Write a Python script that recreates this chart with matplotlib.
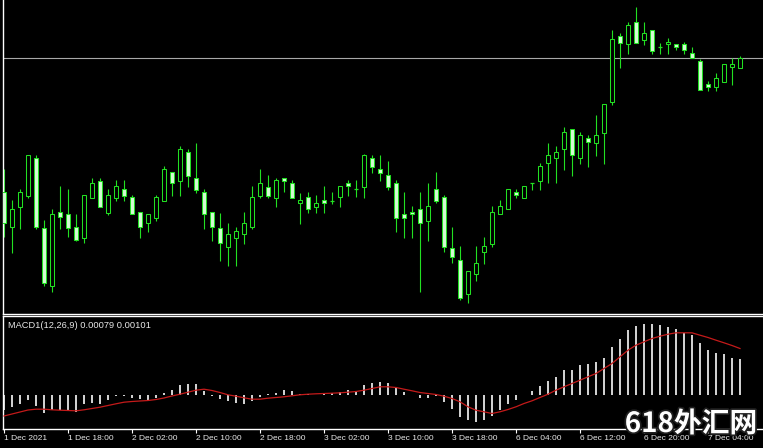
import matplotlib
matplotlib.use("Agg")
import matplotlib.pyplot as plt
from matplotlib.patches import Rectangle
import matplotlib.patheffects as pe

W, H, DPI = 763, 448, 100

# ---- price data (arbitrary price units) ----
opens = [122, 87.3, 107.3, 118.3, 155.7, 85.7, 28.3, 101.7, 99.7, 87.3,
         76.3, 116.3, 133.3, 101.3, 116.3, 124.7, 116.7, 101.7, 90.7, 96.3,
         113.3, 141.7, 133.3, 161.7, 135.7, 121.7, 101.7, 85.7, 67.3, 76.3,
         79.7, 87.3, 118.3, 127.3, 116.3, 135.7, 130.7, 110.7, 116.7, 107.3,
         114, 113.3, 116.7, 131.3, 124.7, 127.3, 155.7, 145, 139, 131.3,
         99.7, 102, 104.7, 93.3, 124.7, 116.7, 65.7, 54, 19.7, 39.7,
         62.3, 70, 99.7, 104.7, 122, 116.3, 131.3, 133.3, 150.7, 155.7,
         164.7, 184.7, 155.7, 176.3, 170.7, 181.3, 212.3, 278, 269.7, 291.7,
         274, 284, 267.3, 269.7, 269.7, 269.7, 260.7, 253, 230, 226.7,
         232.3, 246.7, 246.3]
highs = [145, 114, 125, 159, 159, 94, 105, 128.3, 125, 100,
         119, 135.7, 136.3, 125, 134, 134, 119, 101.7, 99.7, 119,
         148.3, 141.7, 168.3, 165, 171.3, 125, 101.7, 100.7, 90.7, 87.3,
         102.3, 128.3, 145, 139, 136.3, 135.7, 134, 121.3, 122.3, 119,
         128.3, 122.3, 128, 134, 134, 160, 159, 159, 153.3, 134,
         122.3, 108, 122.3, 131.3, 142.3, 119, 86.7, 68, 43, 68,
         77.3, 108, 114, 125, 125, 128, 131.3, 151.3, 170.7, 168,
         187.3, 184.7, 182.3, 179, 199, 209.7, 284, 280.7, 292.3, 306.7,
         292.3, 284, 270.7, 275.7, 269.7, 272.3, 267.3, 254.7, 233, 240.7,
         249.7, 255.7, 258]
lows = [77, 61.3, 85, 116.3, 85, 28.3, 22.3, 85, 76.7, 73,
        70.7, 116.3, 107.3, 99, 113.3, 113.3, 99.7, 76.3, 82.3, 93.3,
        113.3, 118.3, 118.3, 126.7, 120.7, 85, 73.3, 53, 48, 48,
        70, 85, 116.3, 116.3, 107.3, 121.7, 116.3, 90, 101.3, 101.3,
        101.3, 110, 107.3, 118.3, 117.3, 116.3, 140.7, 133, 124, 82.3,
        75.7, 75.7, 22.3, 73.3, 110.7, 62.3, 50.7, 14, 11.3, 33,
        50, 67.3, 99.7, 104.7, 116.3, 116.3, 124, 124, 130.7, 130.7,
        144, 138.5, 150, 147.3, 158, 150, 209, 245.7, 260, 271.3,
        269, 260, 260, 260, 264, 260, 255.7, 224, 223.3, 223.3,
        232.3, 229, 246.3]
closes = [91, 105, 122, 159, 87.3, 30.7, 100, 96.7, 85.7, 74,
          119, 130.7, 107.3, 118.7, 128, 118.3, 99.7, 87.3, 99.7, 116.7,
          144.7, 130.7, 165, 138.3, 124, 99.7, 87.3, 70.7, 79.7, 83,
          90.7, 116.7, 130.7, 118.3, 134, 133.3, 116.3, 114, 104.7, 110.7,
          110.7, 113.3, 128, 128, 124.7, 159, 147.3, 141.3, 127.3, 96.3,
          96.3, 99.7, 90.7, 108, 113.3, 67.3, 56.7, 16.3, 43, 50.7,
          68, 102, 108, 125, 118.7, 128, 131.3, 148, 159, 161.7,
          181.7, 159, 179, 172.3, 179, 209.7, 274.7, 271.3, 289, 271.3,
          281.3, 263, 267.3, 272.3, 266.7, 264, 255.7, 224, 226.7, 235.7,
          249.7, 250, 255.7]

# ---- MACD(12,26,9) data (same scale units, histogram = MACD main) ----
macd_main = [-15, -12.3, -9.7, -5, -11.7, -18.3, -15.7, -15.7, -15.7, -17.3,
             -9.7, -8.3, -9, -5, -1.7, -1, -3, -4, -5, -3,
             1.7, 4.3, 9.3, 10.3, 10.3, 3.7, -1.7, -4, -6.3, -8.3,
             -9.7, -6.3, -2.3, 1, 1.7, 4.3, 3.3, 1, 0.3, -0.7,
             0.3, 1.7, 2.7, 4.3, 3.7, 9.3, 11.7, 12.7, 11.7, 7,
             2.7, 0, -3, -3, -1.7, -7.3, -14, -22.3, -25.7, -27.3,
             -25.7, -21.7, -15, -9, -5, 0, 3.7, 8.3, 13.7, 17.7,
             24.3, 25, 29.3, 30.3, 32.7, 37, 47.7, 56, 64.3, 68.3,
             70.3, 70.3, 69.3, 67.7, 66, 61.7, 59.3, 51.7, 45, 41.7,
             40.3, 36.7, 35.3]
macd_signal = [-21.5, -19.5, -17.5, -15.5, -14.7, -14.7, -15.3, -15.7, -16, -16.3,
               -15.3, -14, -12.7, -11, -9.3, -7.7, -7, -6.5, -6, -5,
               -3.5, -1.5, 0.3, 2.3, 4.3, 5.3, 4, 2, -0.3, -1.7,
               -3.3, -4.7, -4.7, -3.7, -3, -2.3, -1.3, -0.3, 0.3, 0.7,
               1, 1.3, 1.7, 2.3, 3, 4.3, 6,
               7.7, 7.7, 7, 5.3, 3.7, 2, 1, 0, -1.7, -4,
               -7.3, -12.3, -15.7, -17.3, -19, -17.3, -15, -12.3, -9, -6.3,
               -3, 0.3, 4.3, 7.7, 11, 14.3, 17.7, 21, 26, 31,
               37.7, 44.3, 49.3, 52.7, 56, 58.3, 60.3, 61.7, 61.7, 61.7,
               59.3, 57, 54.3, 51.7, 49, 46]
macd_label = "MACD1(12,26,9) 0.00079 0.00101"

tick_bars = [0, 8, 16, 24, 32, 40, 48, 56, 64, 72, 80, 88]
tick_labels = ["1 Dec 2021", "1 Dec 18:00", "2 Dec 02:00", "2 Dec 10:00",
               "2 Dec 18:00", "3 Dec 02:00", "3 Dec 10:00", "3 Dec 18:00",
               "6 Dec 04:00", "6 Dec 12:00", "6 Dec 20:00", "7 Dec 04:00"]

# ---- styling ----
BG = "black"
WICK = "#22e022"
BEAR_FILL = "#d4fbd4"
BULL_FILL = "black"
HIST = "#d0d0d0"
SIGNAL = "#c41a1a"
FRAME = "white"
TXT = "#e8e8e8"

fig = plt.figure(figsize=(W / DPI, H / DPI), dpi=DPI, facecolor=BG)
left = 2.5 / W
ax = fig.add_axes([left, 1 - 314 / H, 1 - left, 314 / H])
ax2 = fig.add_axes([left, 1 - 429 / H, 1 - left, (429 - 316) / H])

xmin, xmax = (2.5 - 4) / 8, (W - 4) / 8
n = len(opens)
xs = list(range(n))

for a in (ax, ax2):
    a.set_facecolor(BG)
    a.set_xlim(xmin, xmax)
    for s in a.spines.values():
        s.set_color(FRAME)
        s.set_linewidth(1.0)
    a.spines["right"].set_visible(False)

ax.spines["top"].set_visible(False)
ax.set_ylim(0, 314)
ax.set_xticks([])
ax.set_yticks([])

# wicks
ax.vlines(xs, lows, highs, colors=WICK, linewidth=0.8, zorder=2)
# bodies
bw = 0.6
for i in xs:
    o, c = opens[i], closes[i]
    lo, hi = min(o, c), max(o, c)
    fc = BULL_FILL if c > o else BEAR_FILL
    if hi - lo < 0.5:
        ax.hlines(o, i - bw / 2, i + bw / 2, colors=WICK, linewidth=0.9, zorder=3)
    else:
        ax.add_patch(Rectangle((i - bw / 2, lo), bw, hi - lo, facecolor=fc,
                               edgecolor=WICK, linewidth=0.75, zorder=3))

# bid line at last close
ax.axhline(closes[-1], color="#a8a8a8", linewidth=0.8, zorder=1)

# MACD panel
ax2.set_ylim(-34.5, 78.5)
ax2.bar(xs, macd_main, width=0.2, color=HIST, zorder=2)
ax2.plot(xs, macd_signal, color=SIGNAL, linewidth=0.9, zorder=3)
ax2.set_yticks([])
ax2.set_xticks(tick_bars)
ax2.set_xticklabels(tick_labels, ha="left", fontsize=6.0,
                    fontfamily="Liberation Sans", color=TXT)
ax2.tick_params(axis="x", colors=FRAME, length=3.0, width=0.8, pad=1.5,
                labelcolor=TXT)

fig.text(8 / W, 1 - 325 / H, macd_label, fontsize=6.7, fontfamily="Liberation Sans",
         color=TXT, va="center", ha="left")

# watermark
fig.text(757 / W, 1 - 424 / H, "618外汇网", fontsize=20, fontweight="bold",
         family=["Noto Sans CJK SC", "DejaVu Sans"], color="white",
         ha="right", va="center", zorder=10,
         path_effects=[pe.withStroke(linewidth=2.5, foreground="#202020")])

fig.savefig("out.png", dpi=DPI, facecolor=BG)
